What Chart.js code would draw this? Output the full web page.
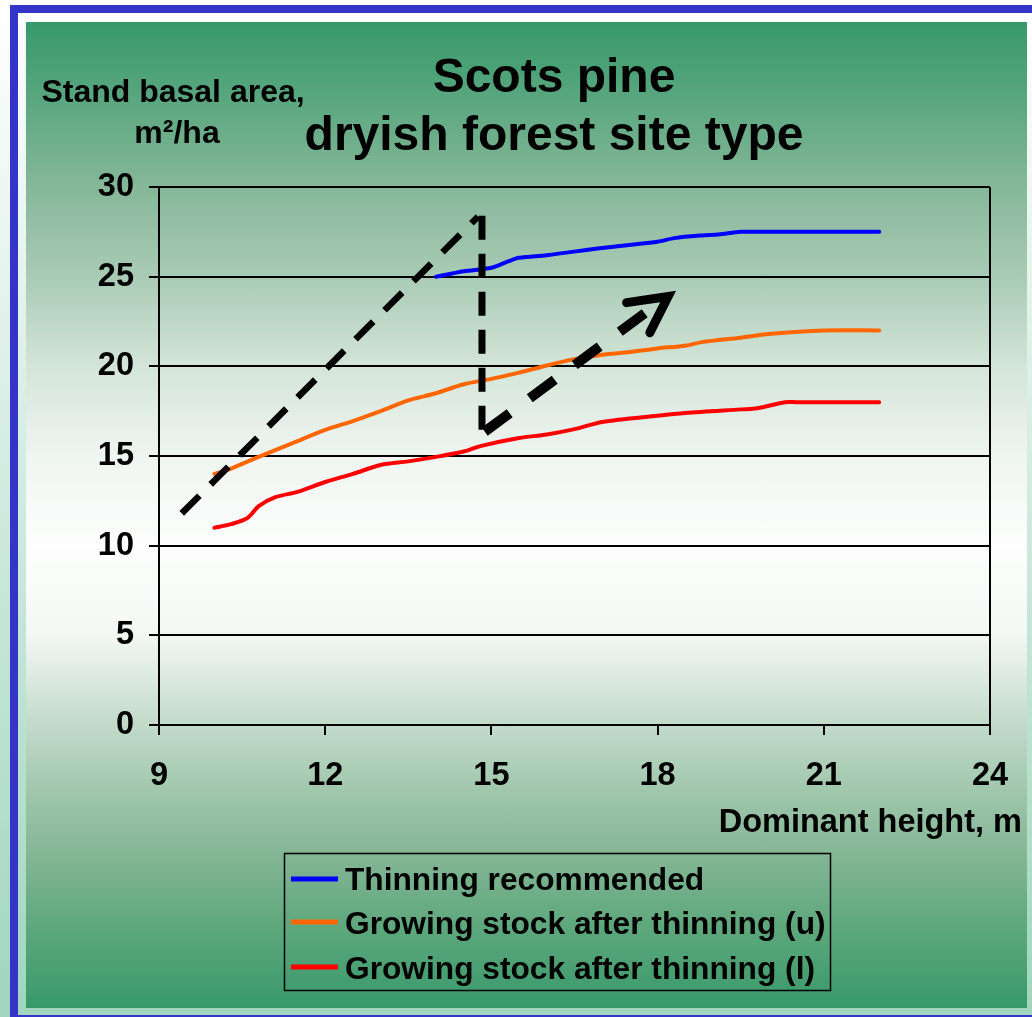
<!DOCTYPE html>
<html>
<head>
<meta charset="utf-8">
<script src="https://cdn.jsdelivr.net/npm/chart.js@4.4.1/dist/chart.umd.min.js"></script>
<style>
html,body{margin:0;padding:0;width:1032px;height:1017px;overflow:hidden;background:linear-gradient(#ffffff,#9fd6bd);}
#fTop{position:absolute;left:10px;top:5px;width:1022px;height:8px;background:#3434c9;}
#fLeft{position:absolute;left:10px;top:5px;width:8px;height:1012px;background:#3434c9;}
#fBottom{position:absolute;left:10px;top:1015px;width:1022px;height:2px;background:#3434c9;}
#panel{position:absolute;left:26px;top:22px;width:1001px;height:986px;
background:linear-gradient(to bottom,#37996a 0%,#5aa780 8%,#86b799 16.7%,#a9cbb5 25.8%,#d4e5d9 35%,#eff5f1 44%,#fdfefd 53%,#f4f8f5 62%,#c9ded0 70%,#9bc4a8 79%,#86b797 84%,#62a97f 91%,#37996a 100%);}
canvas{position:absolute;left:0;top:0;}
</style>
</head>
<body>
<div id="fTop"></div><div id="fLeft"></div><div id="fBottom"></div>
<div id="panel"></div>
<canvas id="c" width="1032" height="1017"></canvas>
<script>
// ---- text ----
const titleLines = ["Scots pine", "dryish forest site type"];
const yTitleLines = ["Stand basal area,", "m²/ha"];
const xTitle = "Dominant height, m";
const seriesLabels = ["Thinning recommended", "Growing stock after thinning (u)", "Growing stock after thinning (l)"];
const seriesColors = ["#0000ff", "#ff6600", "#ff0000"];

// ---- axes ----
const xTicks = [9, 12, 15, 18, 21, 24];
const yTicks = [0, 5, 10, 15, 20, 25, 30];

// ---- series ----
const blueX = [14, 14.5, 15, 15.3, 15.5, 16, 17, 18, 18.3, 18.8, 19.1, 19.5, 20, 21, 22];
const blueY = [25.0, 25.3, 25.5, 25.85, 26.05, 26.2, 26.6, 26.95, 27.15, 27.3, 27.35, 27.5, 27.5, 27.5, 27.5];

const orangeX = [10, 10.3, 10.8, 11.4, 12, 12.5, 13, 13.5, 14, 14.5, 15, 15.5, 16, 16.5, 17, 17.5, 18, 18.5, 18.8, 19.5, 20, 21, 22];
const orangeY = [14.0, 14.3, 14.95, 15.7, 16.45, 16.95, 17.5, 18.1, 18.5, 19.0, 19.3, 19.65, 20.05, 20.4, 20.65, 20.8, 21.0, 21.15, 21.35, 21.6, 21.8, 22.0, 22.0];

const redX = [10, 10.3, 10.6, 10.8, 11.1, 11.5, 12, 12.5, 13, 13.5, 14, 14.5, 14.8, 15.5, 16, 16.5, 17, 18, 18.5, 19.5, 19.8, 20.3, 20.5, 22];
const redY = [11.0, 11.2, 11.55, 12.2, 12.7, 13.0, 13.55, 14.0, 14.5, 14.7, 14.95, 15.25, 15.55, 16.0, 16.2, 16.5, 16.9, 17.25, 17.4, 17.6, 17.66, 18.0, 18.0, 18.0];

// ---- annotation arrows ----
const guideX = [9.41, 14.76];
const guideY = [11.8, 28.35];
const dropX = [14.83, 14.83];
const dropY = [28.4, 16.3];
const growX = [14.88, 17.77];
const growY = [16.36, 22.97];
const headX = [17.44, 18.19, 17.86];
const headY = [23.55, 23.89, 21.88];

const pts = (xs, ys) => xs.map((x, i) => ({x: x, y: ys[i]}));

const FONT = '"Liberation Sans", Arial, Helvetica, sans-serif';

function series(i, xs, ys) {
  return {label: seriesLabels[i], data: pts(xs, ys), borderColor: seriesColors[i], borderWidth: 4,
    pointRadius: 0, tension: 0.3, fill: false, order: 2, borderCapStyle: 'round', borderJoinStyle: 'round'};
}
function annot(xs, ys, width, dash, cap) {
  return {label: '', data: pts(xs, ys), borderColor: '#000', borderWidth: width, borderDash: dash,
    pointRadius: 0, tension: 0, fill: false, order: 1, borderCapStyle: cap || 'butt', borderJoinStyle: 'miter', isAnnot: true};
}

const decor = {
  id: 'decor',
  afterDraw(chart) {
    const ctx = chart.ctx;
    ctx.save();
    ctx.fillStyle = '#000';
    ctx.textBaseline = 'alphabetic';
    ctx.textAlign = 'center';
    ctx.font = 'bold 48px ' + FONT;
    ctx.fillText(titleLines[0], 554, 92);
    ctx.fillText(titleLines[1], 554, 150);
    ctx.font = 'bold 32px ' + FONT;
    ctx.fillText(yTitleLines[0], 173, 102);
    ctx.fillText(yTitleLines[1], 177, 143);
    ctx.textAlign = 'right';
    ctx.font = 'bold 32.5px ' + FONT;
    ctx.fillText(xTitle, 1022, 832);
    // legend
    ctx.lineWidth = 1.5;
    ctx.strokeStyle = '#000';
    ctx.strokeRect(284.5, 853.5, 546, 137);
    const rowsLine = [879, 922, 967];
    const rowsText = [890, 934, 979];
    ctx.textAlign = 'left';
    ctx.font = 'bold 31.7px ' + FONT;
    chart.data.datasets.filter(d => !d.isAnnot).forEach((d, i) => {
      ctx.strokeStyle = d.borderColor;
      ctx.lineWidth = 5;
      ctx.beginPath();
      ctx.moveTo(291, rowsLine[i]);
      ctx.lineTo(338, rowsLine[i]);
      ctx.stroke();
      ctx.fillStyle = '#000';
      ctx.fillText(d.label, 345, rowsText[i]);
    });
    ctx.restore();
  }
};

new Chart(document.getElementById('c'), {
  type: 'line',
  data: {
    datasets: [
      series(0, blueX, blueY),
      series(1, orangeX, orangeY),
      series(2, redX, redY),
      annot(guideX, guideY, 6.5, [25, 16]),
      annot(dropX, dropY, 7, [24, 14]),
      annot(growX, growY, 10, [31, 25]),
      annot(headX, headY, 9, [], 'round')
    ]
  },
  options: {
    responsive: false,
    devicePixelRatio: 1,
    animation: false,
    events: [],
    layout: {padding: {left: 0, top: 187, right: 42, bottom: 232}},
    plugins: {legend: {display: false}, tooltip: {enabled: false}, title: {display: false}},
    scales: {
      x: {
        type: 'linear', min: 9, max: 24,
        afterBuildTicks: s => { s.ticks = xTicks.map(v => ({value: v})); },
        afterFit: s => { s.height = 60; },
        ticks: {color: '#000', font: {family: FONT, size: 32.5, weight: 'bold'}, padding: 22, maxRotation: 0},
        grid: {drawOnChartArea: true, color: c => (c.tick && c.tick.value === 24) ? '#000' : 'rgba(0,0,0,0)',
               tickColor: '#000', tickLength: 10, lineWidth: 2, tickWidth: 2},
        border: {display: true, color: '#000', width: 2}
      },
      y: {
        type: 'linear', min: 0, max: 30,
        afterBuildTicks: s => { s.ticks = yTicks.map(v => ({value: v})); },
        afterFit: s => { s.width = 159; },
        ticks: {color: '#000', font: {family: FONT, size: 32.5, weight: 'bold'}, padding: 15},
        grid: {color: '#000', lineWidth: 2, tickLength: 10, tickColor: '#000', tickWidth: 2},
        border: {display: true, color: '#000', width: 2}
      }
    }
  },
  plugins: [decor]
});
</script>
</body>
</html>
